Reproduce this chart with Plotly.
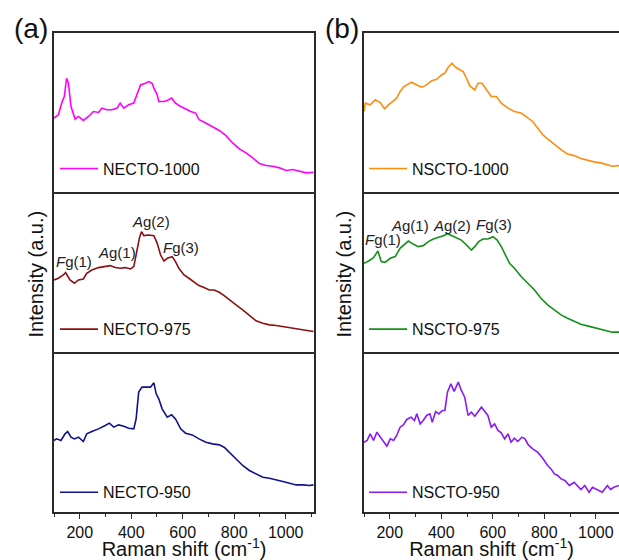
import plotly.graph_objects as go

# ---------------- Raman spectra (wavenumber in cm^-1, intensity in a.u.) ----------------
necto1000_x = [100, 117, 130, 140, 149, 156, 166, 182, 195, 214, 234, 253, 273, 286, 305, 325,
               345, 357, 371, 390, 410, 423, 436, 455, 468, 481, 488, 501, 507, 527, 540, 557,
               572, 592, 611, 631, 650, 664, 689, 716, 742, 768, 794, 820, 846, 872, 898, 924,
               950, 976, 1002, 1028, 1054, 1080, 1108]
necto1000_y = [74.7, 78, 89.7, 96.3, 114.7, 109.7, 86.3, 73.7, 76.3, 72.3, 76.3, 81.3, 80.3, 84.7,
               83, 83, 84.7, 89.7, 84.7, 88, 89.7, 99.7, 108, 109.7, 111.3, 109.7, 104.7, 98,
               91.3, 91.3, 92.3, 94.7, 89.7, 86.3, 83.7, 81.3, 79.7, 73, 69.7, 66.3, 62.3, 57,
               49.7, 43.7, 39.7, 34.7, 29, 27, 26.3, 24.7, 22, 23, 21.3, 19.7, 20.3]

necto975_x = [100, 117, 136, 145, 162, 179, 195, 214, 227, 247, 273, 299, 318, 338, 358, 377,
              397, 410, 423, 433, 440, 449, 468, 488, 501, 514, 527, 540, 559, 572, 585, 605,
              624, 644, 663, 683, 703, 722, 742, 761, 781, 807, 833, 859, 885, 911, 937, 963,
              989, 1015, 1041, 1067, 1093, 1108]
necto975_y = [72.3, 74, 77.3, 79.7, 72.3, 69, 72.3, 73.3, 79, 82.3, 84.7, 85.7, 86.7, 84.7, 84,
              84.7, 83.3, 85.7, 104, 115.7, 120.7, 116.7, 117.3, 116.7, 109, 97.3, 91.3, 94,
              95.7, 90.7, 84, 77.3, 74, 70.7, 66.7, 64.7, 62.3, 62.3, 60, 56.7, 52.3, 47.3,
              42.3, 36.7, 31.3, 29, 27.3, 26.7, 25.7, 24, 23.3, 22.3, 21.3, 20.7]

necto950_x = [100, 110, 127, 143, 153, 166, 179, 195, 214, 227, 247, 273, 299, 315, 332, 351,
              371, 390, 410, 419, 429, 442, 462, 475, 488, 497, 507, 520, 540, 557, 572, 592,
              611, 637, 663, 690, 716, 742, 761, 781, 807, 833, 859, 885, 911, 937, 963, 989,
              1015, 1041, 1067, 1093, 1108]
necto950_y = [71.7, 73.3, 71.7, 78.3, 80.7, 75, 73.3, 75, 70.7, 78.3, 80.7, 83.3, 86.7, 89, 85,
              87.3, 86, 84, 83.3, 93.3, 120, 125, 125, 125, 129.3, 118.3, 113.3, 103.3, 95,
              97.3, 93.3, 83.3, 79, 77.3, 73.3, 70, 68.3, 67.3, 65, 60, 53.3, 46.7, 41.7, 38.3,
              35, 34, 32.7, 30.7, 29, 27.3, 27.3, 26.7, 27.3]

nscto1000_x = [100, 105, 124, 144, 163, 180, 195, 215, 227, 240, 253, 266, 285, 305, 324, 343,
               363, 382, 401, 414, 427, 442, 453, 468, 485, 498, 511, 530, 543, 558, 575, 594,
               614, 633, 659, 684, 710, 736, 755, 774, 794, 813, 839, 865, 890, 916, 942, 967,
               993, 1019, 1045, 1064, 1090]
nscto1000_y = [81.3, 89.7, 88, 93, 90.3, 84, 88, 92.3, 94.7, 101.3, 105.7, 108, 110.7, 108, 105.7,
               108, 112.3, 113.7, 118, 119.7, 125.7, 129.7, 126.3, 123.7, 121.3, 114.7, 107, 103,
               109.7, 109.7, 103.7, 96.3, 96.3, 89.7, 84.7, 81.3, 79.7, 74.7, 71.3, 64.7, 58,
               53.7, 48, 43, 38.7, 37, 34, 32.3, 30.7, 29.7, 28, 26.3, 27]

nscto975_x = [100, 118, 137, 154, 167, 182, 202, 221, 240, 260, 272, 292, 311, 330, 350, 369,
              388, 408, 424, 440, 459, 478, 498, 517, 530, 545, 562, 581, 601, 617, 633, 648,
              665, 684, 710, 736, 762, 787, 813, 839, 865, 890, 916, 942, 967, 993, 1019, 1045,
              1064, 1090]
nscto975_y = [89, 91.3, 94.7, 101.3, 90.7, 90, 94, 95.7, 104, 108, 111.3, 108, 105.7, 106.7,
              110.7, 113.3, 114.7, 116.7, 118.7, 116.7, 114.7, 112.3, 107.3, 102.3, 105.7, 110.7,
              113.3, 113.3, 115.7, 112.3, 105.7, 97.3, 89, 84, 75.7, 69, 62.3, 54, 47.3, 42.3,
              37.3, 34, 30.7, 28, 26.3, 24.7, 23.3, 21.3, 20, 20]

nscto950_x = [100, 112, 124, 137, 150, 163, 176, 189, 202, 215, 227, 240, 253, 266, 283, 296,
              305, 318, 330, 343, 356, 365, 378, 391, 404, 414, 424, 437, 450, 466, 478, 491,
              504, 517, 530, 543, 556, 569, 581, 594, 607, 620, 633, 646, 659, 671, 684, 697,
              713, 725, 738, 755, 774, 794, 813, 826, 839, 852, 865, 880, 897, 916, 929, 942,
              957, 974, 987, 1006, 1025, 1045, 1057, 1070, 1090]
nscto950_y = [70, 71.7, 78.3, 71.7, 80, 75, 70.7, 66, 73.3, 71.7, 76.7, 85, 87.3, 92.7, 95, 91.7,
              98.3, 88.3, 91.7, 96.7, 98.3, 90, 100.7, 98.3, 101.7, 101.7, 120, 128.3, 120.7,
              130, 121.7, 115, 96.7, 100, 96, 100, 105, 100.7, 96.7, 85, 88.3, 81.7, 79.3, 73.3,
              78.3, 70, 74, 70.7, 75, 73.3, 67.3, 63.3, 60, 54, 46.7, 43.3, 38.3, 36.7, 33.3,
              31.7, 26.7, 30, 26.7, 22.7, 26.7, 20, 25, 22.7, 20, 26.7, 22.7, 25, 26.7]

series = [
    # name, x, y, color, row, col
    ("NECTO-1000", necto1000_x, necto1000_y, "#FF00FF", 1, 1),
    ("NECTO-975", necto975_x, necto975_y, "#8B1010", 2, 1),
    ("NECTO-950", necto950_x, necto950_y, "#10128C", 3, 1),
    ("NSCTO-1000", nscto1000_x, nscto1000_y, "#FF8C0F", 1, 2),
    ("NSCTO-975", nscto975_x, nscto975_y, "#14901A", 2, 2),
    ("NSCTO-950", nscto950_x, nscto950_y, "#8A1AF5", 3, 2),
]

# mode labels: (text, wavenumber, intensity) for the middle panels
labels_necto975 = [("<i>F</i>g(1)", 177, 91), ("<i>A</i>g(1)", 346, 100),
                   ("<i>A</i>g(2)", 477, 131), ("<i>F</i>g(3)", 593, 105)]
labels_nscto975 = [("<i>F</i>g(1)", 173, 113), ("<i>A</i>g(1)", 278, 127),
                   ("<i>A</i>g(2)", 440, 127), ("<i>F</i>g(3)", 604, 128)]

x_ticks = [200, 400, 600, 800, 1000]

# ---------------- layout geometry ----------------
W, H = 619, 560
FONT = "Arial, Liberation Sans, sans-serif"
FRAME = "#2a2a2a"
col_dom = {1: [54 / W, 314 / W], 2: [364 / W, 1.0]}
col_rng = {1: [100, 1110], 2: [100, 1090]}
row_edges = [33.3, 193.5, 354, 515]
row_dom = {r: [1 - row_edges[r] / H, 1 - row_edges[r - 1] / H] for r in (1, 2, 3)}
legend_y = {1: 169.5, 2: 331, 3: 495}
legend_x = {1: 55, 2: 364}

fig = go.Figure()
layout = dict(
    width=W, height=H,
    margin=dict(l=0, r=0, t=0, b=0),
    paper_bgcolor="white", plot_bgcolor="white",
    font=dict(family=FONT, color="#111111"),
    showlegend=True,
)

annotations = []
for i, (name, xs, ys, color, row, col) in enumerate(series, start=1):
    ax = "" if i == 1 else str(i)
    lg = "legend" if i == 1 else f"legend{i}"
    fig.add_trace(go.Scatter(
        x=xs, y=ys, mode="lines", name=name,
        line=dict(color=color, width=1.6),
        xaxis=f"x{ax}", yaxis=f"y{ax}", legend=lg,
    ))
    bottom = row == 3
    xa = dict(
        domain=col_dom[col], range=col_rng[col], anchor=f"y{ax}",
        # only the top panel draws its upper edge, so shared edges stay single lines
        showline=True, mirror=(row == 1), linecolor=FRAME, linewidth=1.5,
        showgrid=False, zeroline=False,
        tickvals=x_ticks, showticklabels=bottom,
        ticks="outside" if bottom else "", ticklen=5, tickwidth=1.2, tickcolor=FRAME,
        tickfont=dict(size=16, family=FONT, color="#111111"),
    )
    if bottom:
        xa["minor"] = dict(tickvals=[100, 300, 500, 700, 900, 1100], ticks="outside",
                           ticklen=3, tickwidth=1.2, tickcolor=FRAME)
        xa["title"] = dict(text="Raman shift (cm<sup>-1</sup>)",
                           font=dict(size=20, family=FONT, color="#111111"), standoff=5)
    ya = dict(
        domain=row_dom[row], range=[0, 160], anchor=f"x{ax}",
        showline=True, mirror=(col == 1), linecolor=FRAME, linewidth=1.5,
        showgrid=False, zeroline=False, showticklabels=False, ticks="",
    )
    layout[f"xaxis{ax}"] = xa
    layout[f"yaxis{ax}"] = ya
    layout[f"legend{'' if i == 1 else i}"] = dict(
        x=legend_x[col] / W, y=1 - legend_y[row] / H, xanchor="left", yanchor="middle",
        bgcolor="rgba(0,0,0,0)", borderwidth=0,
        font=dict(size=16, family=FONT, color="#111111"),
        itemwidth=38,
    )

# mode labels on the middle panels
for (txt, xv, yv) in labels_necto975:
    annotations.append(dict(text=txt, x=xv, y=yv, xref="x2", yref="y2", showarrow=False,
                            xanchor="center", yanchor="middle",
                            font=dict(size=15, family=FONT, color="#222222")))
for (txt, xv, yv) in labels_nscto975:
    annotations.append(dict(text=txt, x=xv, y=yv, xref="x5", yref="y5", showarrow=False,
                            xanchor="center", yanchor="middle",
                            font=dict(size=15, family=FONT, color="#222222")))

# panel letters and y-axis titles
big = dict(family=FONT, color="#111111")
annotations += [
    dict(text="(a)", x=31 / W, y=1 - 29 / H, xref="paper", yref="paper", showarrow=False,
         xanchor="center", yanchor="middle", font=dict(size=28, **big)),
    dict(text="(b)", x=342 / W, y=1 - 29 / H, xref="paper", yref="paper", showarrow=False,
         xanchor="center", yanchor="middle", font=dict(size=28, **big)),
    dict(text="Intensity (a.u.)", x=36 / W, y=1 - 276 / H, xref="paper", yref="paper",
         showarrow=False, textangle=-90, xanchor="center", yanchor="middle",
         font=dict(size=20, **big)),
    dict(text="Intensity (a.u.)", x=344 / W, y=1 - 276 / H, xref="paper", yref="paper",
         showarrow=False, textangle=-90, xanchor="center", yanchor="middle",
         font=dict(size=20, **big)),
]
layout["annotations"] = annotations

fig.update_layout(**layout)
fig.write_html("out.html")
